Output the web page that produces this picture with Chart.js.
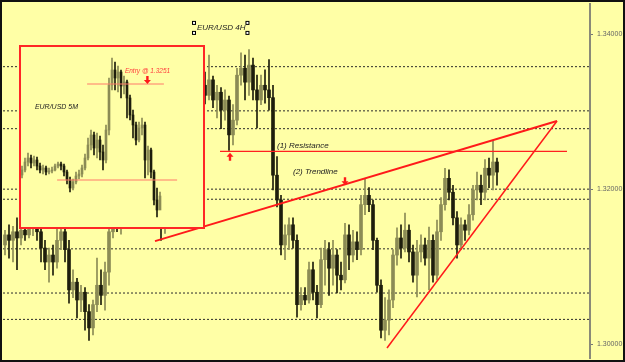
<!DOCTYPE html>
<html>
<head>
<meta charset="utf-8">
<script src="https://cdn.jsdelivr.net/npm/chart.js@4.4.0/dist/chart.umd.min.js"></script>
<style>
  html, body { margin: 0; padding: 0; background: #ffffa6; }
  #wrap { position: relative; width: 625px; height: 362px; overflow: hidden; background: #ffffa6; }
  #main { position: absolute; left: 0; top: 0; }
  #inset { position: absolute; left: 19px; top: 45px; width: 186px; height: 184px; box-sizing: border-box;
           border: 2px solid #ff2626; background: #ffffa6; }
  #small { display: block; }
  #frame { position: absolute; left: 0; top: 0; width: 625px; height: 362px; box-sizing: border-box;
           border: 2px solid #111; pointer-events: none; }
</style>
</head>
<body>
<div id="wrap">
  <canvas id="main" width="625" height="362"></canvas>
  <div id="inset"><canvas id="small" width="182" height="180"></canvas></div>
  <div id="frame"></div>
</div>
<script>
"use strict";

// ---- EUR/USD 4H (grafico principal) ----
const opens = [1.3128,1.3141,1.3134,1.3145,1.3137,1.3147,1.3141,1.3150,1.3154,1.3145,
  1.3124,1.3106,1.3115,1.3106,1.3134,1.3145,1.3122,1.3070,1.3080,1.3057,
  1.3067,1.3042,1.3021,1.3051,1.3076,1.3063,1.3093,1.3145,1.3167,1.3154,
  1.3160,1.3168,1.3176,1.3167,1.3180,1.3186,1.3173,1.3180,1.3167,1.3171,
  1.3154,1.3167,1.3205,1.3238,1.3263,1.3289,1.3276,1.3302,1.3321,1.3315,
  1.3334,1.3321,1.3341,1.3315,1.3325,1.3302,1.3315,1.3270,1.3289,1.3347,
  1.3356,1.3338,1.3360,1.3328,1.3315,1.3334,1.3328,1.3318,1.3218,1.3186,
  1.3128,1.3141,1.3154,1.3134,1.3051,1.3063,1.3057,1.3096,1.3067,1.3051,
  1.3109,1.3122,1.3098,1.3115,1.3089,1.3083,1.3141,1.3115,1.3132,1.3122,
  1.3180,1.3192,1.3180,1.3134,1.3076,1.3018,1.3031,1.3057,1.3115,1.3137,
  1.3124,1.3147,1.3119,1.3089,1.3119,1.3128,1.3111,1.3134,1.3089,1.3145,
  1.3180,1.3214,1.3196,1.3163,1.3128,1.3154,1.3147,1.3167,1.3199,1.3205,
  1.3196,1.3227,1.3218,1.3235];
const highs = [1.3147,1.3154,1.3152,1.3163,1.3158,1.3160,1.3167,1.3173,1.3167,1.3150,
  1.3134,1.3124,1.3128,1.3150,1.3158,1.3154,1.3134,1.3096,1.3085,1.3076,
  1.3073,1.3051,1.3057,1.3111,1.3096,1.3106,1.3160,1.3180,1.3176,1.3173,
  1.3180,1.3186,1.3189,1.3192,1.3199,1.3192,1.3189,1.3186,1.3180,1.3176,
  1.3180,1.3218,1.3250,1.3276,1.3302,1.3309,1.3315,1.3334,1.3341,1.3347,
  1.3351,1.3373,1.3346,1.3334,1.3331,1.3328,1.3320,1.3309,1.3356,1.3376,
  1.3373,1.3380,1.3369,1.3347,1.3347,1.3354,1.3367,1.3334,1.3242,1.3192,
  1.3154,1.3163,1.3163,1.3141,1.3073,1.3073,1.3106,1.3106,1.3076,1.3124,
  1.3134,1.3131,1.3134,1.3122,1.3106,1.3156,1.3154,1.3147,1.3145,1.3192,
  1.3214,1.3202,1.3186,1.3137,1.3083,1.3060,1.3070,1.3122,1.3150,1.3154,
  1.3169,1.3154,1.3128,1.3134,1.3141,1.3137,1.3151,1.3141,1.3160,1.3189,
  1.3227,1.3225,1.3205,1.3171,1.3163,1.3160,1.3180,1.3205,1.3222,1.3218,
  1.3238,1.3240,1.3263,1.3240];
const lows = [1.3115,1.3111,1.3106,1.3096,1.3128,1.3134,1.3137,1.3140,1.3134,1.3106,
  1.3096,1.3080,1.3089,1.3098,1.3122,1.3106,1.3053,1.3060,1.3034,1.3042,
  1.3018,1.3005,1.3012,1.3042,1.3051,1.3044,1.3076,1.3137,1.3145,1.3142,
  1.3152,1.3163,1.3158,1.3160,1.3171,1.3163,1.3160,1.3155,1.3154,1.3134,
  1.3143,1.3160,1.3199,1.3231,1.3257,1.3266,1.3270,1.3296,1.3305,1.3309,
  1.3310,1.3315,1.3305,1.3292,1.3278,1.3289,1.3250,1.3257,1.3283,1.3334,
  1.3315,1.3321,1.3315,1.3279,1.3309,1.3311,1.3302,1.3199,1.3177,1.3115,
  1.3109,1.3122,1.3124,1.3035,1.3044,1.3051,1.3053,1.3057,1.3034,1.3047,
  1.3076,1.3063,1.3076,1.3066,1.3070,1.3079,1.3096,1.3106,1.3109,1.3115,
  1.3167,1.3171,1.3122,1.3067,1.3008,1.3005,1.3012,1.3047,1.3102,1.3111,
  1.3119,1.3106,1.3080,1.3061,1.3106,1.3102,1.3070,1.3080,1.3083,1.3134,
  1.3173,1.3186,1.3154,1.3111,1.3122,1.3134,1.3141,1.3160,1.3186,1.3180,
  1.3186,1.3202,1.3199,1.3205];
const closes = [1.3141,1.3134,1.3145,1.3137,1.3147,1.3141,1.3150,1.3154,1.3145,1.3124,
  1.3106,1.3115,1.3106,1.3134,1.3145,1.3122,1.3070,1.3080,1.3057,1.3067,
  1.3042,1.3021,1.3051,1.3076,1.3063,1.3093,1.3145,1.3167,1.3154,1.3160,
  1.3168,1.3176,1.3167,1.3180,1.3186,1.3173,1.3180,1.3167,1.3171,1.3154,
  1.3167,1.3205,1.3238,1.3263,1.3289,1.3276,1.3302,1.3321,1.3315,1.3334,
  1.3321,1.3341,1.3315,1.3325,1.3302,1.3315,1.3270,1.3289,1.3347,1.3356,
  1.3338,1.3360,1.3328,1.3315,1.3334,1.3328,1.3318,1.3218,1.3186,1.3128,
  1.3141,1.3154,1.3134,1.3051,1.3063,1.3057,1.3096,1.3067,1.3051,1.3109,
  1.3122,1.3098,1.3115,1.3089,1.3083,1.3141,1.3115,1.3132,1.3122,1.3180,
  1.3192,1.3180,1.3134,1.3076,1.3018,1.3031,1.3057,1.3115,1.3137,1.3124,
  1.3147,1.3119,1.3089,1.3119,1.3128,1.3111,1.3134,1.3089,1.3145,1.3180,
  1.3214,1.3196,1.3163,1.3128,1.3154,1.3147,1.3167,1.3199,1.3205,1.3196,
  1.3227,1.3218,1.3235,1.3222];

const niveles = [1.3358, 1.3301, 1.3278, 1.3200, 1.3187, 1.3123, 1.3066, 1.3032]; // lineas punteadas
const yTicks = [1.30, 1.32, 1.34];

const resistencia = [{x: 53.75, y: 1.32486}, {x: 140.5, y: 1.32486}];
const trendline = [{x: 37.5, y: 1.3133}, {x: 138, y: 1.3288}];
const soporte = [{x: 95.5, y: 1.2995}, {x: 138, y: 1.3288}];

const textos4h = [
  {t: "EUR/USD 4H", x: 48, y: 1.3408, sel: true},
  {t: "(1) Resistance", x: 68, y: 1.3256},
  {t: "(2) Trendline", x: 72, y: 1.3222}
];
const flechas4h = [{x: 56.25, y: 1.3247, dir: "up"}, {x: 85, y: 1.3205, dir: "down"}];

// ---- EUR/USD 5M (recuadro) ----
const opens5 = [1.32055,1.3208,1.3212,1.3214,1.32115,1.3213,1.3210,1.3208,1.3209,1.3207,
  1.32075,1.3208,1.3210,1.3211,1.3210,1.3207,1.3203,1.3199,1.3202,1.3205,
  1.3206,1.3209,1.3214,1.32205,1.32255,1.3219,1.3223,1.3217,1.3213,1.3228,
  1.32505,1.3258,1.3254,1.3257,1.3250,1.3252,1.3244,1.32355,1.32305,1.3223,
  1.3229,1.32305,1.3213,1.3218,1.3207,1.3193,1.3188];
const highs5 = [1.3210,1.3214,1.32165,1.32155,1.3215,1.32145,1.32115,1.32105,1.3210,1.3209,
  1.32095,1.3211,1.3212,1.3212,1.3211,1.3208,1.32045,1.32035,1.3207,1.3208,
  1.32105,1.3216,1.3224,1.3228,1.3227,1.32265,1.3225,1.32205,1.32305,1.3254,
  1.3264,1.3262,1.3260,1.3258,1.3255,1.3253,1.32455,1.3238,1.3232,1.3232,
  1.3234,1.3232,1.3220,1.3219,1.3208,1.3199,1.3197];
const lows5 = [1.3204,1.3207,1.3210,1.3209,1.3210,1.3208,1.32065,1.3206,1.32055,1.3206,
  1.32065,1.32075,1.3209,1.3208,1.3205,1.3201,1.3197,1.3198,1.3201,1.32035,
  1.32045,1.3208,1.3213,1.3218,1.32155,1.3214,1.3213,1.3208,1.32115,1.32255,
  1.3248,1.3248,1.3247,1.3244,1.3246,1.3234,1.3233,1.3224,1.32205,1.3222,
  1.32255,1.3204,1.32055,1.3204,1.31905,1.31845,1.3189];
const closes5 = [1.3208,1.3212,1.3214,1.32115,1.3213,1.3210,1.3208,1.3209,1.3207,1.32075,
  1.3208,1.3210,1.3211,1.3210,1.3207,1.3203,1.3199,1.3202,1.3205,1.3206,
  1.3209,1.3214,1.32205,1.32255,1.3219,1.3223,1.3217,1.3213,1.3228,1.32505,
  1.3258,1.3254,1.3257,1.3250,1.3252,1.3244,1.32355,1.32305,1.3223,1.3229,
  1.32305,1.3213,1.3218,1.3207,1.3193,1.3188,1.3195];

const entrada = [{x: 21.7, y: 1.3251}, {x: 47.3, y: 1.3251}];
const lineaBaja = [{x: 11.7, y: 1.3203}, {x: 51.7, y: 1.3203}];
const textos5m = [
  {t: "Entry @ 1.3251", x: 34.3, y: 1.32575, color: "#ff3c3c", size: 6.5},
  {t: "EUR/USD 5M", x: 4.3, y: 1.32395}
];
const flechas5m = [{x: 41.8, y: 1.3251, dir: "down"}];

// colores
const SUBE = "#8b8b55";
const BAJA = "#1d1d0c";
const ROJO = "#ff1a1a";

function velas(o, h, l, c, wickW, bodyW) {
  const color = ctx => (c[ctx.dataIndex] >= o[ctx.dataIndex] ? SUBE : BAJA);
  return [
    {
      type: "bar", order: 4, grouped: false, barThickness: wickW,
      data: h.map((v, i) => ({x: i, y: [l[i], v]})),
      backgroundColor: color, borderWidth: 0
    },
    {
      type: "bar", order: 3, grouped: false, barThickness: bodyW, minBarLength: 1,
      data: o.map((v, i) => ({x: i, y: [v, c[i]]})),
      backgroundColor: color, borderWidth: 0
    }
  ];
}

function linea(data, color, width, dash) {
  return {
    type: "line", order: 1, data: data, borderColor: color, backgroundColor: color,
    borderWidth: width, borderDash: dash || [], pointRadius: 0, tension: 0, fill: false
  };
}

function flecha(ctx, x, y, dir) {
  const s = dir === "up" ? 1 : -1;
  ctx.fillStyle = ROJO;
  ctx.beginPath();
  ctx.moveTo(x, y);
  ctx.lineTo(x + 3.5, y + 4 * s);
  ctx.lineTo(x + 1.2, y + 4 * s);
  ctx.lineTo(x + 1.2, y + 8 * s);
  ctx.lineTo(x - 1.2, y + 8 * s);
  ctx.lineTo(x - 1.2, y + 4 * s);
  ctx.lineTo(x - 3.5, y + 4 * s);
  ctx.closePath();
  ctx.fill();
}

function notas(textos, flechas, sizeDef) {
  return {
    id: "notas",
    afterDatasetsDraw(chart) {
      const ctx = chart.ctx, xs = chart.scales.x, ys = chart.scales.y;
      ctx.save();
      textos.forEach(n => {
        const px = xs.getPixelForValue(n.x), py = ys.getPixelForValue(n.y);
        ctx.font = "italic " + (n.size || sizeDef) + "px 'Liberation Sans', Arial, sans-serif";
        ctx.fillStyle = n.color || "#222";
        ctx.textBaseline = "middle";
        ctx.fillText(n.t, px, py);
        if (n.sel) {
          const w = ctx.measureText(n.t).width;
          ctx.fillStyle = "#fff";
          ctx.strokeStyle = "#000";
          ctx.lineWidth = 1;
          [[px - 3, py - 5], [px - 3, py + 5], [px + w + 2, py - 5], [px + w + 2, py + 5]].forEach(p => {
            ctx.fillRect(p[0] - 1.5, p[1] - 1.5, 3, 3);
            ctx.strokeRect(p[0] - 1.5, p[1] - 1.5, 3, 3);
          });
        }
      });
      flechas.forEach(f => flecha(ctx, xs.getPixelForValue(f.x), ys.getPixelForValue(f.y), f.dir));
      ctx.restore();
    }
  };
}

// grafico 4H
const dsNiveles = niveles.map(v => Object.assign(linea([{x: -0.5, y: v}, {x: 146.25, y: v}], "#2a2a2a", 1, [2, 2]), {order: 5}));

new Chart(document.getElementById("main"), {
  type: "bar",
  data: {
    datasets: [
      ...dsNiveles,
      ...velas(opens, highs, lows, closes, 1, 3),
      linea(resistencia, "#ff2020", 1.2),
      linea(trendline, ROJO, 2),
      linea(soporte, ROJO, 1.5)
    ]
  },
  options: {
    responsive: false,
    animation: false,
    layout: {padding: {left: 3, top: 4, bottom: 4, right: 0}},
    scales: {
      x: {type: "linear", min: -0.5, max: 146.25, display: false, offset: false},
      y: {
        position: "right",
        min: 1.298218, max: 1.343884,
        afterFit(s) { s.width = 35; s.paddingTop = 0; s.paddingBottom = 0; },
        afterBuildTicks(s) { s.ticks = yTicks.map(v => ({value: v})); },
        ticks: {
          callback: v => Number(v).toFixed(5),
          font: {size: 7, family: "'Liberation Sans', Arial, sans-serif"},
          color: "#666", padding: 4
        },
        grid: {drawOnChartArea: false, tickLength: 3, color: "#777"},
        border: {color: "#8a8a78", width: 2}
      }
    },
    plugins: {legend: {display: false}, tooltip: {enabled: false}}
  },
  plugins: [notas(textos4h, flechas4h, 8)]
});

// grafico 5M (recuadro)
new Chart(document.getElementById("small"), {
  type: "bar",
  data: {
    datasets: [
      ...velas(opens5, highs5, lows5, closes5, 1, 2),
      linea(entrada, "#ff7a6a", 1),
      linea(lineaBaja, "#ff7a6a", 1)
    ]
  },
  options: {
    responsive: false,
    animation: false,
    layout: {padding: 0},
    scales: {
      x: {type: "linear", min: -0.333, max: 60.333, display: false, offset: false},
      y: {min: 1.31795, max: 1.32695, display: false}
    },
    plugins: {legend: {display: false}, tooltip: {enabled: false}}
  },
  plugins: [notas(textos5m, flechas5m, 7)]
});
</script>
</body>
</html>
